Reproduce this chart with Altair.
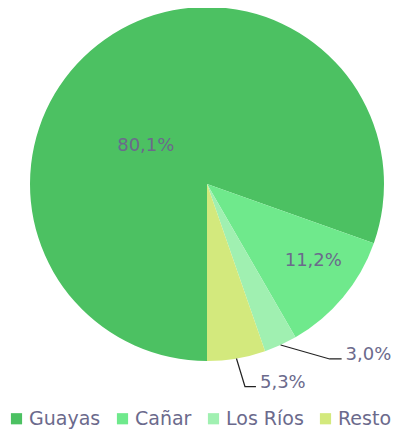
import math
import altair as alt
import pandas as pd

# ---- data ----
categories = ["Guayas", "Cañar", "Los Ríos", "Resto"]
shares = [80.1, 11.2, 3.0, 5.3]
labels = ["80,1%", "11,2%", "3,0%", "5,3%"]
colors = ["#4cc162", "#6fe98c", "#a0f0b1", "#d3e97d"]

# ---- layout / style (not data) ----
W, H = 387, 422
CX, CY, R = 199, 176, 177
START = math.pi  # first slice starts at 6 o'clock
TEXT = "#6b6a8c"
FONT = "DejaVu Sans"
# inside labels: (angle offset deg, radius); outside: (elbow dx, dy, tail length)
inside_layout = {"Guayas": (-23, 72), "Cañar": (-4, 131)}
outside_layout = {"Los Ríos": (49, 14, 12), "Resto": (8.5, 28, 11)}

total = sum(shares)
slices = pd.DataFrame({"cat": categories, "value": shares, "order": range(len(categories))})

def polar(theta, r):
    return CX + r * math.sin(theta), CY - r * math.cos(theta)

label_rows, line_rows = [], []
cum = 0.0
for c, v, l in zip(categories, shares, labels):
    a0 = START + 2 * math.pi * cum / total
    cum += v
    a1 = START + 2 * math.pi * cum / total
    mid = (a0 + a1) / 2
    if c in inside_layout:
        d, r = inside_layout[c]
        x, y = polar(mid + math.radians(d), r)
        label_rows.append({"x": x, "y": y, "text": l, "kind": "in"})
    else:
        ex, ey, tail = outside_layout[c]
        x0, y0 = polar(mid, R)
        x1, y1 = x0 + ex, y0 + ey
        x2, y2 = x1 + tail, y1
        for k, (px, py) in enumerate([(x0, y0), (x1, y1), (x2, y2)]):
            line_rows.append({"x": px, "y": py, "k": k, "g": c})
        label_rows.append({"x": x2 + 4, "y": y2 + 1, "text": l, "kind": "out"})

lab = pd.DataFrame(label_rows)
lines = pd.DataFrame(line_rows)

pie = alt.Chart(slices).mark_arc(outerRadius=R).encode(
    theta=alt.Theta("value:Q", stack=True, scale=alt.Scale(range=[START, START + 2 * math.pi])),
    order=alt.Order("order:Q"),
    x=alt.value(CX),
    y=alt.value(CY),
    color=alt.Color(
        "cat:N",
        scale=alt.Scale(domain=categories, range=colors),
        sort=categories,
        legend=alt.Legend(
            title=None,
            orient="none",
            direction="horizontal",
            legendX=-1,
            legendY=401,
            padding=0,
            symbolType="square",
            symbolSize=125,
            symbolStrokeWidth=0,
            symbolOpacity=1,
            symbolOffset=0,
            labelFont=FONT,
            labelFontSize=19,
            labelColor=TEXT,
            labelOffset=3,
            columnPadding=12,
        ),
    ),
)

leader = alt.Chart(lines).mark_line(color="#222222", strokeWidth=1.2).encode(
    x=alt.X("x:Q", scale=None),
    y=alt.Y("y:Q", scale=None),
    detail="g:N",
    order="k:Q",
)

txt_in = alt.Chart(lab).transform_filter(alt.datum.kind == "in").mark_text(
    font=FONT, fontSize=18, color=TEXT, align="center", baseline="middle"
).encode(x=alt.X("x:Q", scale=None), y=alt.Y("y:Q", scale=None), text="text:N")

txt_out = alt.Chart(lab).transform_filter(alt.datum.kind == "out").mark_text(
    font=FONT, fontSize=18, color=TEXT, align="left", baseline="alphabetic"
).encode(x=alt.X("x:Q", scale=None), y=alt.Y("y:Q", scale=None), text="text:N")

chart = (
    alt.layer(pie, leader, txt_in, txt_out)
    .properties(width=W, height=H, padding=0, autosize=alt.AutoSizeParams(type="none"))
    .configure_view(stroke=None)
)

chart.save("out.html", embed_options={"renderer": "svg", "actions": False})
